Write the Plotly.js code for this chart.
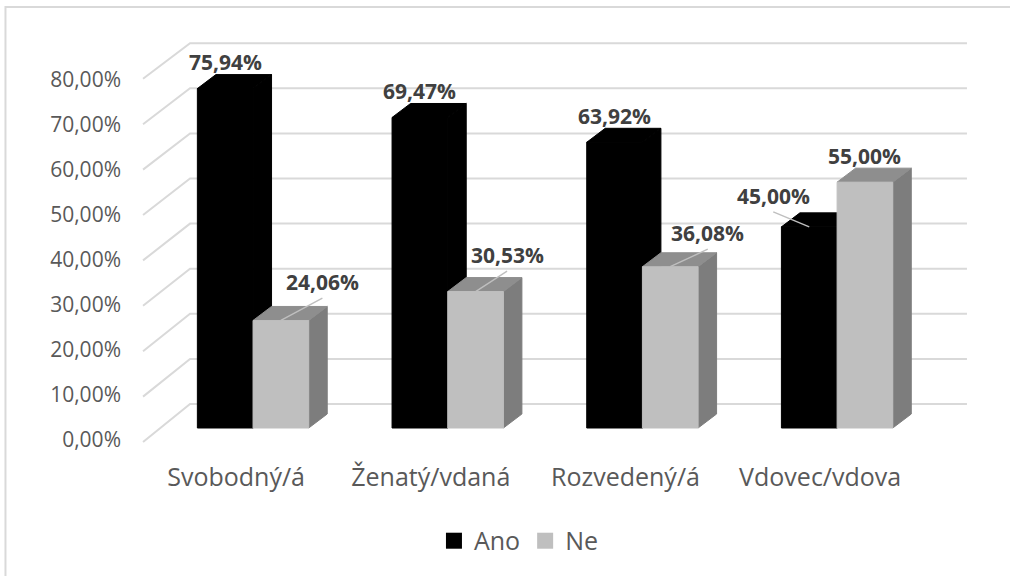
<!DOCTYPE html>
<html>
<head>
<meta charset="utf-8">
<script src="https://cdn.plot.ly/plotly-3.0.1.min.js"></script>
<style>html,body{margin:0;padding:0;background:#fff;}#chart{width:1010px;height:576px;}</style>
</head>
<body>
<div id="chart"></div>
<script>
// ---- data ----
const categories = ['Svobodný/á', 'Ženatý/vdaná', 'Rozvedený/á', 'Vdovec/vdova'];
const seriesNames = ['Ano', 'Ne'];
const ano = [75.94, 69.47, 63.92, 45.00];
const ne = [24.06, 30.53, 36.08, 55.00];
const yTicks = [0, 10, 20, 30, 40, 50, 60, 70, 80];

// ---- style / geometry constants ----
const W = 0.286;      // bar width (category units)
const DX = 0.095;     // 3D depth, x
const DY = 3.13;      // 3D depth, y (%)
const WALL_X0 = -0.3236, WALL_X1 = 3.667, FRONT_X = -0.565;
const backY = v => 5.369 + 1.009 * v;
const frontY = v => 1.0157 * v - 3.132;
const fmt = v => v.toFixed(2).replace('.', ',') + '%';

const colors = {
  Ano: {front: '#000000', top: '#000000', side: '#000000'},
  Ne: {front: '#bfbfbf', top: '#8e8e8e', side: '#7d7d7d'}
};
// label placement: null => above bar, otherwise leader offset [ax, ay] in px
const leaders = {
  Ano: [null, null, null, [-36, -15]],
  Ne: [[41.5, -22.4], [31.5, -20.5], [37.5, -17.5], null]
};

const traces = [];

// back wall gridlines + left wall diagonals
const gx = [], gy = [];
yTicks.forEach(v => {
  gx.push(FRONT_X, WALL_X0, WALL_X1, null);
  gy.push(frontY(v), backY(v), backY(v), null);
});
traces.push({type: 'scatter', mode: 'lines', x: gx, y: gy, line: {color: '#d9d9d9', width: 2},
  hoverinfo: 'skip', showlegend: false});

function faces(vals, s) {
  const f = {x: [], y: []}, t = {x: [], y: []}, sd = {x: [], y: []};
  vals.forEach((v, i) => {
    const x0 = i - W + s * W, x1 = x0 + W;
    f.x.push(x0, x1, x1, x0, x0, null); f.y.push(0, 0, v, v, 0, null);
    t.x.push(x0, x1, x1 + DX, x0 + DX, x0, null); t.y.push(v, v, v + DY, v + DY, v, null);
    sd.x.push(x1, x1 + DX, x1 + DX, x1, x1, null); sd.y.push(0, DY, v + DY, v, 0, null);
  });
  return {f, t, sd};
}

[ano, ne].forEach((vals, s) => {
  const name = seriesNames[s];
  const c = colors[name];
  const g = faces(vals, s);
  [['sd', c.side], ['t', c.top], ['f', c.front]].forEach(([k, col]) => {
    traces.push({type: 'scatter', mode: 'lines', x: g[k].x, y: g[k].y, fill: 'toself',
      fillcolor: col, line: {color: col, width: 1}, hoverinfo: 'skip', showlegend: false});
  });
});

// legend entries
seriesNames.forEach(name => {
  traces.push({type: 'scatter', mode: 'markers', x: [null], y: [null], name: name,
    marker: {symbol: 'square', size: 16, color: colors[name].front}, hoverinfo: 'skip'});
});
// anchor trace for the tick-label axis
traces.push({type: 'scatter', mode: 'markers', x: [null], y: [null], yaxis: 'y2', showlegend: false, hoverinfo: 'skip'});

// data labels
const annotations = [];
[ano, ne].forEach((vals, s) => {
  const name = seriesNames[s];
  vals.forEach((v, i) => {
    const cx = i - W / 2 + s * W;
    const ld = leaders[name][i];
    const a = {x: cx, y: v, xref: 'x', yref: 'y', text: '<b>' + fmt(v) + '</b>',
      font: {family: 'Open Sans', size: 21, color: '#404040'}};
    if (ld) {
      Object.assign(a, {showarrow: true, arrowhead: 0, arrowwidth: 1.4, arrowcolor: '#bfbfbf',
        ax: ld[0], ay: ld[1], xanchor: 'center', yanchor: 'bottom', standoff: 0});
    } else {
      Object.assign(a, {showarrow: false, yanchor: 'middle', xanchor: 'center', yshift: 26.5});
    }
    annotations.push(a);
  });
});

const layout = {
  width: 1010, height: 576,
  margin: {l: 130, r: 30, t: 20, b: 116},
  paper_bgcolor: '#ffffff', plot_bgcolor: 'rgba(0,0,0,0)',
  separators: ', ',
  font: {family: 'Open Sans', color: '#595959'},
  showlegend: true,
  legend: {orientation: 'h', x: 0.4576, xanchor: 'center', y: -0.184, yanchor: 'middle',
    font: {family: 'Open Sans', size: 25, color: '#595959'}, itemclick: false},
  xaxis: {range: [-0.632, 3.734], tickmode: 'array', tickvals: categories.map((c, i) => i - 0.087),
    ticktext: categories, showgrid: false, zeroline: false, showline: false, ticks: '',
    tickfont: {family: 'Open Sans', size: 25, color: '#595959'}, fixedrange: true},
  yaxis: {range: [-7.16, 91.28], showticklabels: false, showgrid: false, zeroline: false,
    showline: false, fixedrange: true},
  yaxis2: {overlaying: 'y', side: 'left', range: [-4.556, 93.22], tickmode: 'array', tickvals: yTicks,
    ticktext: yTicks.map(fmt), showgrid: false, zeroline: false, showline: false, ticks: '',
    ticklabelstandoff: 8, tickfont: {family: 'Open Sans', size: 21, color: '#595959'}, fixedrange: true},
  annotations: annotations,
  shapes: [{type: 'rect', xref: 'paper', yref: 'paper', x0: -0.1465, x1: 1.05, y0: -0.3, y1: 1.0295,
    line: {color: '#d9d9d9', width: 2}, fillcolor: 'rgba(0,0,0,0)', layer: 'below'}]
};

Plotly.newPlot('chart', traces, layout, {displayModeBar: false, staticPlot: true});
</script>
</body>
</html>
